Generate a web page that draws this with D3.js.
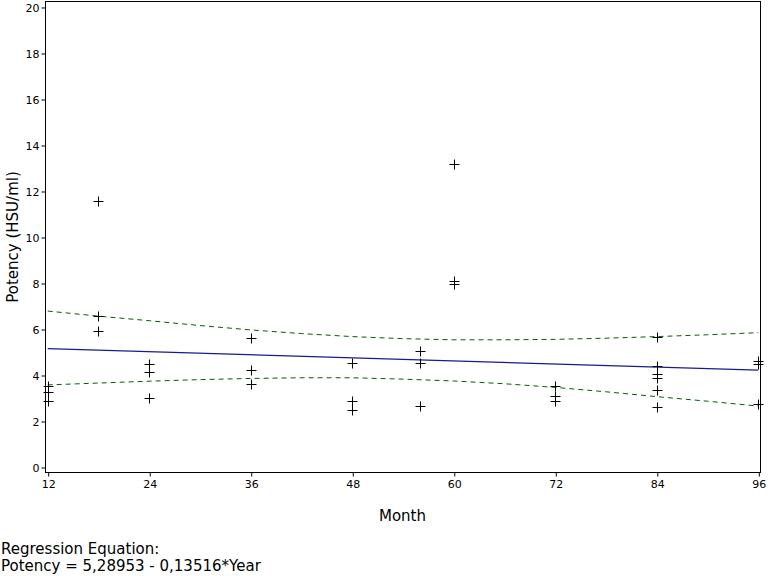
<!DOCTYPE html>
<html>
<head>
<meta charset="utf-8">
<script src="https://cdn.jsdelivr.net/npm/d3@7"></script>
<style>
  html, body { margin: 0; padding: 0; background: #fff; }
  svg { display: block; }
  text { font-family: "DejaVu Sans", "Liberation Sans", sans-serif; fill: #000; }
</style>
</head>
<body>
<svg id="chart" width="768" height="576"></svg>
<script>
// ---- Data ----
const obsMonths = [12,12,12, 18,18,18, 24,24,24, 36,36,36, 48,48,48, 56,56,56, 60,60,60, 72,72,72, 84,84,84,84,84,84, 96,96,96];
const obsPotency = [3.54,3.25,2.87, 11.55,6.56,5.90, 4.46,4.13,2.99, 5.63,4.20,3.63, 4.51,2.87,2.50, 5.03,4.51,2.67, 13.19,8.09,7.97, 3.52,3.07,2.88, 5.65,4.41,4.04,3.86,3.36,2.60, 4.61,4.47,2.73];

const fitMonths = [12, 96];
const fitValues = [5.15, 4.21];

const bandMonths = [12,18,24,30,36,42,48,54,60,66,72,78,84,90,96];
const upperBand = [6.78,6.56,6.36,6.15,5.96,5.80,5.67,5.58,5.53,5.53,5.55,5.60,5.67,5.75,5.84];
const lowerBand = [3.57,3.65,3.73,3.80,3.85,3.88,3.88,3.82,3.74,3.62,3.46,3.27,3.06,2.86,2.65];

const xTicks = [12,24,36,48,60,72,84,96];
const yTicks = [0,2,4,6,8,10,12,14,16,18,20];

const xLabel = "Month";
const yLabel = "Potency (HSU/ml)";
const eqLines = ["Regression Equation:", "Potency = 5,28953 - 0,13516*Year"];

// ---- Layout ----
const svg = d3.select("#chart");
const pL = 45, pR = 760, pT = 1, pB = 472;

const x = d3.scaleLinear().domain([11.68, 96.2]).range([pL, pR]);
const y = d3.scaleLinear().domain([-0.217, 20.26]).range([pB, pT]);

// frame
svg.append("rect")
  .attr("x", pL + 0.5).attr("y", pT + 0.5)
  .attr("width", pR - pL).attr("height", pB - pT)
  .attr("fill", "none").attr("stroke", "#000").attr("stroke-width", 1);

// axes
const xAxis = d3.axisBottom(x).tickValues(xTicks).tickSize(4).tickPadding(4).tickFormat(d3.format("d"));
svg.append("g").attr("transform", `translate(0.5,${pB + 0.5})`).call(xAxis)
  .call(g => g.select(".domain").remove())
  .call(g => g.selectAll("text").attr("font-size", 11).attr("font-family", "DejaVu Sans"));

const yAxis = d3.axisLeft(y).tickValues(yTicks).tickSize(4).tickPadding(2).tickFormat(d3.format("d"));
svg.append("g").attr("transform", `translate(${pL + 0.5},0.5)`).call(yAxis)
  .call(g => g.select(".domain").remove())
  .call(g => g.selectAll("text").attr("font-size", 11).attr("font-family", "DejaVu Sans"));

// bands
const bandLine = d3.line().x((d, i) => x(bandMonths[i])).y(d => y(d));
[upperBand, lowerBand].forEach(b => {
  svg.append("path").datum(b).attr("d", bandLine)
    .attr("fill", "none").attr("stroke", "#0a5a0a").attr("stroke-width", 1)
    .attr("stroke-dasharray", "5,4");
});

// regression line
const fitLine = d3.line().x((d, i) => x(fitMonths[i])).y(d => y(d));
svg.append("path").datum(fitValues).attr("d", fitLine)
  .attr("fill", "none").attr("stroke", "#1a1a8c").attr("stroke-width", 1.3);

// observations (plus markers)
const g = svg.append("g");
obsMonths.forEach((m, i) => {
  const cx = Math.round(x(m)) + 0.5, cy = Math.round(y(obsPotency[i])) + 0.5;
  g.append("path")
    .attr("d", `M${cx - 5},${cy}H${cx + 5}M${cx},${cy - 5}V${cy + 5}`)
    .attr("stroke", "#000").attr("stroke-width", 1).attr("fill", "none");
});

// labels
svg.append("text").attr("x", (pL + pR) / 2).attr("y", 521)
  .attr("text-anchor", "middle").attr("font-size", 15).text(xLabel);

svg.append("text").attr("transform", `translate(18,237) rotate(-90)`)
  .attr("text-anchor", "middle").attr("font-size", 15).text(yLabel);

eqLines.forEach((t, i) => {
  svg.append("text").attr("x", 1).attr("y", 554 + i * 17)
    .attr("font-size", 15).text(t);
});
</script>
</body>
</html>
